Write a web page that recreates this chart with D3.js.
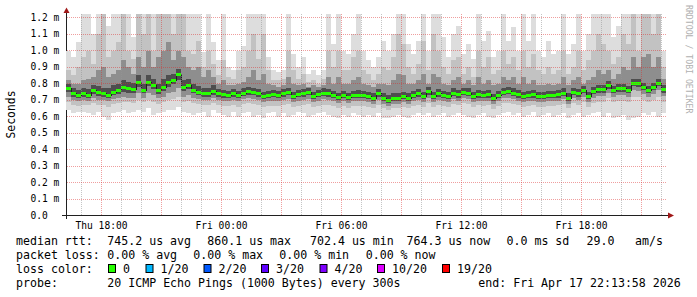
<!DOCTYPE html>
<html><head><meta charset="utf-8">
<script src="https://cdn.jsdelivr.net/npm/d3@7"></script>
<style>
html,body{margin:0;padding:0;background:#fff;}
svg{display:block;}
text{font-family:"DejaVu Sans Mono",monospace;}
</style></head><body>
<svg id="c" width="697" height="297"></svg>
<script>
// ---- data (microseconds), one value per 15-minute step ----
const median = [
775,742,732,742,733,758,748,740,732,750,
760,778,770,766,808,760,812,790,760,780,
808,820,860.1,780,790,762,750,742,742,755,
740,735,730,740,730,745,752,750,740,722,
730,735,730,740,750,725,735,740,750,725,
735,745,740,730,720,730,720,730,733,730,
725,715,740,715,702.4,715,715,725,715,730,
740,725,752,725,740,730,725,745,735,750,
745,725,735,730,735,712,730,750,755,745,
735,725,730,735,725,725,730,730,735,745,
715,750,740,760,725,755,765,765,790,760,
770,770,760,805,800,780,760,780,805,764.3];
const smokeMax = [
1000,960,1050,1225,1225,1100,1225,1225,1150,1225,
1225,1225,1225,1080,1225,1225,1225,1225,1225,1225,
1225,1225,1225,1225,1225,1225,1225,990,1225,1050,
940,1225,900,880,1000,1030,1225,1225,1225,1225,
960,880,870,880,1225,980,900,960,860,880,
850,880,1225,1040,1225,1000,980,1100,1225,1000,
940,900,960,1060,1000,1100,1225,1225,1040,980,
1060,1225,1000,1225,1225,1080,960,1100,1150,980,
1040,950,1225,1060,1120,960,1000,1225,1060,1140,
1000,1225,1060,1225,1000,960,1060,980,1000,1225,
980,1040,1225,1000,1100,1225,1225,1225,1225,1080,
1150,1225,1225,1225,1225,1225,1225,1225,1225,1000];
const smokeHi1 = [
880,850,900,960,1000,920,1100,1225,960,1000,
1050,1225,1000,950,1225,1100,1225,1000,1225,1225,
1225,1100,1225,1225,1000,980,1060,900,1000,920,
850,940,840,830,880,900,1000,1100,950,1100,
880,820,820,830,1000,880,830,860,810,820,
800,830,1000,900,1000,880,880,960,1000,880,
860,820,860,900,880,960,1100,1040,900,860,
920,1060,880,1100,1000,900,860,940,960,860,
900,840,1000,900,960,860,880,1000,920,960,
880,1000,900,980,880,860,900,860,880,1000,
860,900,1000,880,940,1000,1100,1040,1000,920,
960,1100,1040,1225,1000,1225,1225,1100,1225,900];
const smokeHi2 = [
820,800,800,820,830,840,880,900,840,860,
880,940,900,860,960,900,1000,900,960,1000,
1050,940,1000,960,900,880,900,840,880,840,
800,820,790,790,800,810,840,880,820,860,
800,790,780,790,840,800,790,800,780,790,
780,790,840,800,840,800,800,820,840,800,
790,780,800,800,790,820,860,850,800,800,
820,860,800,860,840,800,790,820,840,800,
820,790,840,800,820,790,800,840,820,840,
800,840,800,820,790,790,800,790,800,840,
790,820,840,800,820,840,880,860,880,830,
860,900,880,960,900,960,980,900,960,830];
const smokeHi3 = [
800,770,760,775,765,790,785,775,770,790,
800,820,810,805,850,800,850,830,800,825,
850,860,890,820,830,800,785,775,775,790,
765,760,755,765,755,770,780,775,765,748,
755,760,755,765,775,750,760,765,775,750,
760,770,765,755,745,755,745,755,758,755,
750,740,765,740,728,740,742,750,740,755,
765,750,778,750,765,755,750,770,760,775,
770,750,760,755,760,738,755,775,780,770,
760,750,755,760,750,750,755,755,760,770,
740,775,765,785,750,780,790,790,815,785,
795,795,785,830,825,805,785,805,830,790];
const smokeLo3 = [
750,720,712,720,712,735,725,720,712,728,
735,750,745,742,780,740,785,765,738,755,
780,795,820,755,765,740,728,720,720,732,
720,715,712,720,712,725,730,730,720,705,
712,716,712,720,730,708,716,720,730,708,
716,725,720,712,702,712,702,712,715,712,
706,696,720,696,684,696,696,706,696,710,
720,706,732,706,720,710,706,725,715,730,
725,706,715,710,715,694,710,730,735,725,
715,705,710,715,705,705,710,710,715,725,
696,730,720,740,706,735,745,745,768,740,
750,750,740,782,778,758,740,758,782,745];
const smokeLo2 = [
720,700,695,700,695,710,700,700,692,705,
710,720,715,715,740,712,745,730,710,720,
740,750,770,720,730,712,705,700,700,710,
700,695,692,700,692,705,710,708,700,688,
692,696,692,700,708,690,696,700,708,690,
695,704,700,692,684,692,684,692,695,692,
688,678,700,678,666,678,678,688,678,692,
700,688,712,688,700,692,688,706,696,710,
706,688,696,692,696,676,692,710,715,706,
696,686,692,696,686,686,692,692,696,706,
678,710,700,718,688,714,722,722,745,718,
728,728,718,758,754,735,718,735,758,722];
const smokeLo1 = [
690,670,665,672,668,680,672,668,660,675,
680,690,685,680,700,685,700,690,675,685,
700,705,720,690,695,680,675,670,670,680,
670,665,662,670,660,675,680,678,670,655,
662,666,662,670,678,660,666,670,678,660,
665,672,670,662,654,662,654,662,665,662,
660,650,670,650,640,650,650,660,650,664,
672,660,680,660,672,664,660,676,668,680,
676,660,668,664,668,648,664,680,684,676,
668,658,664,668,658,658,664,664,668,676,
650,680,672,688,660,684,690,690,710,688,
696,696,688,720,716,700,688,700,720,690];
const smokeMin = [
640,620,625,630,620,610,625,600,580,620,
630,640,620,630,640,630,650,610,620,630,
640,640,660,630,620,610,620,630,600,640,
620,610,600,630,600,620,630,600,610,590,
620,630,600,620,600,610,630,620,600,610,
620,630,610,600,590,610,600,620,610,600,
610,600,620,590,590,600,610,600,590,610,
620,610,620,600,610,620,600,610,620,610,
600,590,610,620,600,590,610,620,630,610,
620,600,610,630,600,610,620,600,610,620,
590,610,620,600,610,620,630,600,620,590,
600,610,580,590,600,620,610,630,600,620];

const yTickValues = [0,0.1,0.2,0.3,0.4,0.5,0.6,0.7,0.8,0.9,1.0,1.1,1.2];
const yTickLabels = ["0.0","0.1 m","0.2 m","0.3 m","0.4 m","0.5 m","0.6 m","0.7 m","0.8 m","0.9 m","1.0 m","1.1 m","1.2 m"];
const xTickLabels = ["Thu 18:00","Fri 00:00","Fri 06:00","Fri 12:00","Fri 18:00"];
const yTitle = "Seconds";
const watermark = "RRDTOOL / TOBI OETIKER";
const rttLine = ["median rtt:","745.2 us avg","860.1 us max","702.4 us min","764.3 us now","0.0 ms sd","29.0","am/s"];
const lossLine = ["packet loss:","0.00 % avg","0.00 % max","0.00 % min","0.00 % now"];
const lossColorTitle = "loss color:";
const lossLabels = ["0","1/20","2/20","3/20","4/20","10/20","19/20"];
const lossColors = ["#26ff00","#00b8ff","#0059ff","#5e00ff","#7e00ff","#dd00ff","#ff0000"];
const probeLine = ["probe:","20 ICMP Echo Pings (1000 Bytes) every 300s","end: Fri Apr 17 22:13:58 2026"];

// ---- drawing ----
const svg = d3.select("#c");
svg.append("rect").attr("width",697).attr("height",297).attr("fill","#fff");
const start = new Date(2026,3,16,16,13,58), end = new Date(2026,3,17,22,13,58);
const stepMs = 15*60*1000;
const times = median.map((_,i)=>new Date(+start + i*stepMs));
const x = d3.scaleTime().domain([start,end]).range([66,666]);
const y = d3.scaleLinear().domain([0,1.2]).range([215.5,17.5]);
const us = v => y(v/1000);
const pts = median.map((m,i)=>({t:times[i],i}));
pts.push({t:end,i:median.length-1});

svg.append("defs").append("clipPath").attr("id","plot")
  .append("rect").attr("x",66).attr("y",14).attr("width",600).attr("height",201.5);

// axis lines (drawn beneath smoke)
svg.append("path").attr("d","M62,215.5H670").attr("stroke","#202020").attr("fill","none");
svg.append("path").attr("d","M66.5,219V11").attr("stroke","#202020").attr("fill","none");

const plot = svg.append("g").attr("clip-path","url(#plot)");
const bands = [[smokeMin,smokeMax,"#dddddd"],[smokeLo1,smokeHi1,"#c2c2c2"],[smokeLo2,smokeHi2,"#8e8e8e"],[smokeLo3,smokeHi3,"#4e4e4e"]];
bands.forEach(([lo,hi,col])=>{
  const a = d3.area().x(d=>x(d.t)).y0(d=>us(lo[d.i])).y1(d=>us(hi[d.i])).curve(d3.curveStepAfter);
  plot.append("path").attr("d",a(pts)).attr("fill",col).attr("shape-rendering","crispEdges");
});

// grid on top of smoke
const grid = svg.append("g").attr("shape-rendering","crispEdges");
x.ticks(d3.timeHour.every(1)).forEach(t=>{
  const xp = Math.floor(x(t))+0.5;
  const major = t.getHours()%3===0;
  grid.append("line").attr("x1",xp).attr("x2",xp).attr("y1",14).attr("y2",215)
    .attr("stroke", major ? "rgba(220,40,40,0.45)" : "rgba(150,150,150,0.55)")
    .attr("stroke-dasharray","1,1");
});
yTickValues.forEach(v=>{
  if (v===0) return;
  grid.append("line").attr("x1",67).attr("x2",666).attr("y1",y(v)).attr("y2",y(v))
    .attr("stroke","rgba(220,40,40,0.45)").attr("stroke-dasharray","1,1");
});

// median
const mline = d3.line().x(d=>x(d.t)).y(d=>Math.round(us(median[d.i]))+0.5).curve(d3.curveStepAfter);
plot.append("path").attr("d",mline(pts)).attr("fill","none").attr("stroke","#202020").attr("shape-rendering","crispEdges");
median.forEach((m,i)=>{
  const x0 = Math.round(x(times[i])), x1 = Math.round(x(i<median.length-1?times[i+1]:end));
  plot.append("rect").attr("x",x0).attr("width",x1-x0).attr("y",Math.round(us(m))-1).attr("height",3)
    .attr("fill",lossColors[0]);
});

// arrows
svg.append("path").attr("d","M63.5,13L66.5,7.5L69.5,13Z").attr("fill","#a01818");
svg.append("path").attr("d","M668,212.5L674,215.5L668,218.5Z").attr("fill","#a01818");

// y labels
yTickValues.forEach((v,i)=>{
  svg.append("text").attr("x",30.5).attr("y",y(v)+3.4).attr("font-size","9.6px").attr("fill","#000").text(yTickLabels[i]);
});
// x labels
x.ticks(d3.timeHour.every(6)).forEach((t,i)=>{
  svg.append("text").attr("x",Math.floor(x(t))+0.5).attr("y",228.5).attr("text-anchor","middle")
    .attr("font-size","9.6px").attr("fill","#000").text(xTickLabels[i]);
});
svg.append("text").attr("transform","translate(15,114.5) rotate(-90)").attr("text-anchor","middle")
  .attr("font-size","11.4px").attr("fill","#000").text(yTitle);
svg.append("text").attr("transform","translate(685.5,5) rotate(90)").attr("font-size","8.2px")
  .attr("fill","#b0b0b0").text(watermark);

// legend
const lg = svg.append("g").attr("font-size","11.6px").attr("fill","#000");
const put = (s,xp,yp)=>lg.append("text").attr("x",xp).attr("y",yp).attr("xml:space","preserve").text(s);
[16,107.3,207.3,310,406.5,506.5,586.5,635].forEach((xp,i)=>put(rttLine[i],xp,245));
[16,107.3,193.3,279.3,365.7].forEach((xp,i)=>put(lossLine[i],xp,259));
put(lossColorTitle,16,273);
const boxX = [108.5,146,204,261.5,320,377.5,442.5];
lossLabels.forEach((s,i)=>{
  lg.append("rect").attr("x",boxX[i]).attr("y",264.5).attr("width",7).attr("height",8)
    .attr("fill",lossColors[i]).attr("stroke","#000").attr("stroke-width",1);
  put(s,boxX[i]+14.5,273);
});
[16,107.3,478.3].forEach((xp,i)=>put(probeLine[i],xp,287));
</script>
</body></html>
